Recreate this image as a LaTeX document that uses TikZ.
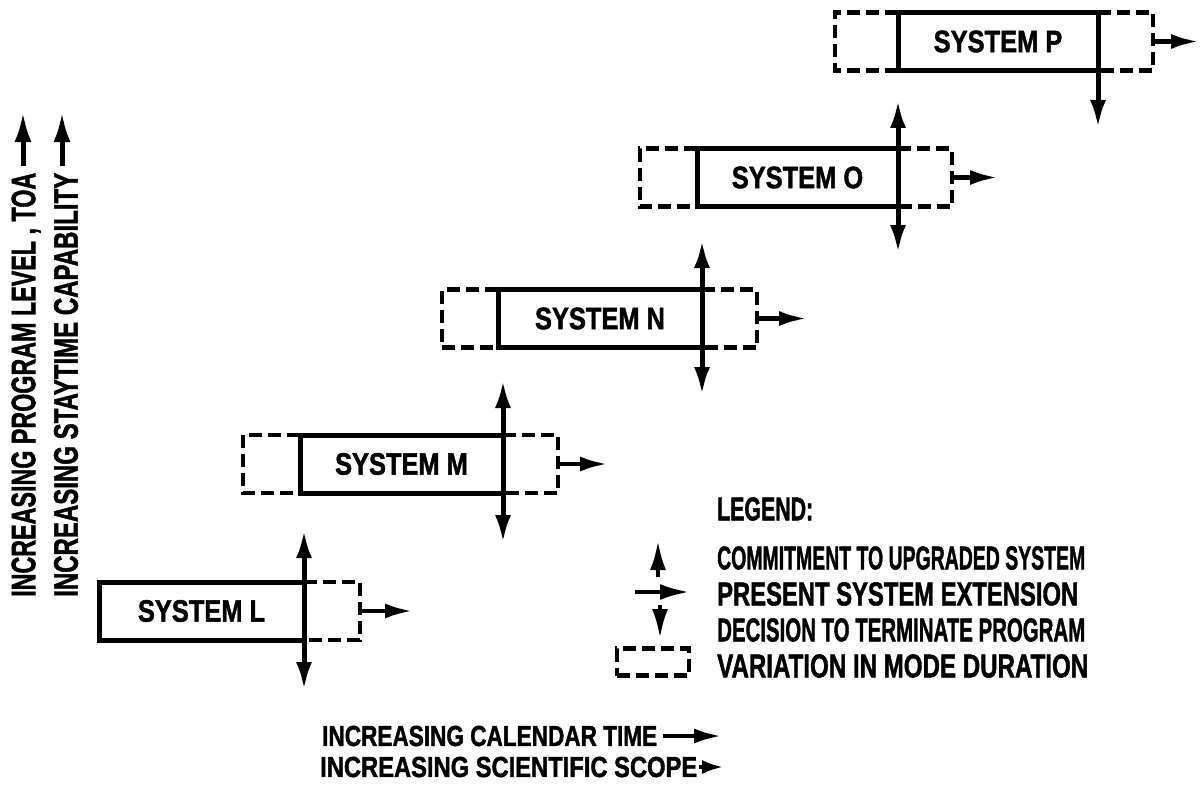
\documentclass[tikz,border=0pt]{standalone}
\usepackage{fontspec}
\setmainfont{Liberation Sans}[BoldFeatures={FakeBold=1.6}]
\usepackage{graphicx}
\usetikzlibrary{arrows.meta}
\newcommand\fitw[2]{\resizebox{#1}{\height}{#2}}
\newcommand\systxt[1]{\fontsize{31}{31}\selectfont\bfseries\scalebox{0.82}[1]{#1}}
\newcommand\legfont{\fontsize{33}{33}\selectfont\bfseries}
\newcommand\axfont{\fontsize{34}{34}\selectfont\bfseries}
\newcommand\botfont{\fontsize{29}{29}\selectfont\bfseries}
\tikzset{
  sysbox/.style={draw, line width=5pt, inner sep=0pt, outer sep=0pt, minimum height=58pt},
  extline/.style={line width=4.5pt, dash pattern=on 13pt off 6pt},
  vline/.style={line width=5pt, {Latex[length=28pt,width=16pt]}-{Latex[length=28pt,width=16pt]}},
  downarrow/.style={line width=5pt, -{Latex[length=28pt,width=16pt]}},
  extarrow/.style={line width=4.5pt, -{Latex[length=28pt,width=15pt]}},
  legarrow/.style={line width=4.5pt, -{Latex[length=30pt,width=16pt]}},
  axarrow/.style={line width=5pt, -{Latex[length=30pt,width=17pt]}},
  txt/.style={inner sep=0pt, anchor=west}
}
\begin{document}
\begin{tikzpicture}[x=1pt,y=-1pt]
\useasboundingbox[fill=white] (0,0) rectangle (1201,789);

% ---------- System L ----------
\node[sysbox, minimum width=205pt] (L) at (201.5,611) {\systxt{SYSTEM L}};
\coordinate (Ldr) at (360,611);
\coordinate (Lae) at (413,611);
\coordinate (Lvt) at (304,530);
\coordinate (Lvb) at (304,690);
\draw[extline] (L.north east) -| (Ldr) |- (L.south east);
\draw[extarrow] (Ldr) -- (Lae);
\draw[vline] (Lvb) -- (Lvt);

% ---------- System M ----------
\node[sysbox, minimum width=203pt] (M) at (401.5,464) {\systxt{SYSTEM M}};
\coordinate (Mdl) at (243,464);
\coordinate (Mdr) at (558,464);
\coordinate (Mae) at (608,464);
\coordinate (Mvt) at (503,380);
\coordinate (Mvb) at (503,543);
\draw[extline] (M.north west) -| (Mdl) |- (M.south west);
\draw[extline] (M.north east) -| (Mdr) |- (M.south east);
\draw[extarrow] (Mdr) -- (Mae);
\draw[vline] (Mvb) -- (Mvt);

% ---------- System N ----------
\node[sysbox, minimum width=204pt] (N) at (600,318.5) {\systxt{SYSTEM N}};
\coordinate (Ndl) at (442,318.5);
\coordinate (Ndr) at (757,318.5);
\coordinate (Nae) at (807,318.5);
\coordinate (Nvt) at (702,240);
\coordinate (Nvb) at (702,395);
\draw[extline] (N.north west) -| (Ndl) |- (N.south west);
\draw[extline] (N.north east) -| (Ndr) |- (N.south east);
\draw[extarrow] (Ndr) -- (Nae);
\draw[vline] (Nvb) -- (Nvt);

% ---------- System O ----------
\node[sysbox, minimum width=201pt] (O) at (797.5,177.5) {\systxt{SYSTEM O}};
\coordinate (Odl) at (640,177.5);
\coordinate (Odr) at (952,177.5);
\coordinate (Oae) at (998,177.5);
\coordinate (Ovt) at (898,100);
\coordinate (Ovb) at (898,253);
\draw[extline] (O.north west) -| (Odl) |- (O.south west);
\draw[extline] (O.north east) -| (Odr) |- (O.south east);
\draw[extarrow] (Odr) -- (Oae);
\draw[vline] (Ovb) -- (Ovt);

% ---------- System P ----------
\node[sysbox, minimum width=200pt] (P) at (998,41.5) {\systxt{SYSTEM P}};
\coordinate (Pdl) at (835,41.5);
\coordinate (Pdr) at (1153,41.5);
\coordinate (Pae) at (1199,41.5);
\coordinate (Pvb) at (1098,128);
\draw[extline] (P.north west) -| (Pdl) |- (P.south west);
\draw[extline] (P.north east) -| (Pdr) |- (P.south east);
\draw[extarrow] (Pdr) -- (Pae);
\draw[downarrow] (P.south east) -- (Pvb);

% ---------- Legend ----------
\node[txt] (lgt) at (717,509) {\legfont\fitw{96pt}{LEGEND:}};
\node[txt] (lg1) at (717,558) {\legfont\fitw{368pt}{COMMITMENT TO UPGRADED SYSTEM}};
\node[txt] (lg2) at (717,594) {\legfont\fitw{361pt}{PRESENT SYSTEM EXTENSION}};
\node[txt] (lg3) at (717,630) {\legfont\fitw{368pt}{DECISION TO TERMINATE PROGRAM}};
\node[txt] (lg4) at (717,666) {\legfont\fitw{371pt}{VARIATION IN MODE DURATION}};
\coordinate (lu1) at (658,577);
\coordinate (lu2) at (658,540);
\draw[legarrow] (lu1) -- (lu2);
\coordinate (lh1) at (635,592);
\coordinate (lh2) at (690,592);
\draw[legarrow] (lh1) -- (lh2);
\coordinate (ld1) at (660,605);
\coordinate (ld2) at (660,639);
\draw[legarrow] (ld1) -- (ld2);
\node[extline, draw, inner sep=0pt, minimum width=72pt, minimum height=27pt] (lgbox) at (653,662) {};

% ---------- Axes texts ----------
\node[txt, rotate=90] (ax1) at (26,597) {\axfont\fitw{424pt}{INCREASING PROGRAM LEVEL , TOA}};
\node[txt, rotate=90] (ax2) at (66,597) {\axfont\fitw{424pt}{INCREASING STAYTIME CAPABILITY}};
\coordinate (a1s) at (23,166);
\coordinate (a1t) at (23,112);
\coordinate (a2s) at (62,166);
\coordinate (a2t) at (62,112);
\draw[axarrow] (a1s) -- (a1t);
\draw[axarrow] (a2s) -- (a2t);

\node[txt] (bt1) at (322,736) {\botfont\fitw{335pt}{INCREASING CALENDAR TIME}};
\node[txt] (bt2) at (320,767) {\botfont\fitw{377pt}{INCREASING SCIENTIFIC SCOPE}};
\coordinate (b1s) at (663,736);
\coordinate (b1t) at (722,736);
\coordinate (b2s) at (699,767);
\coordinate (b2t) at (724,767);
\draw[extarrow] (b1s) -- (b1t);
\draw[line width=4.5pt, -{Latex[length=22pt,width=14pt]}] (b2s) -- (b2t);
\end{tikzpicture}
\end{document}
